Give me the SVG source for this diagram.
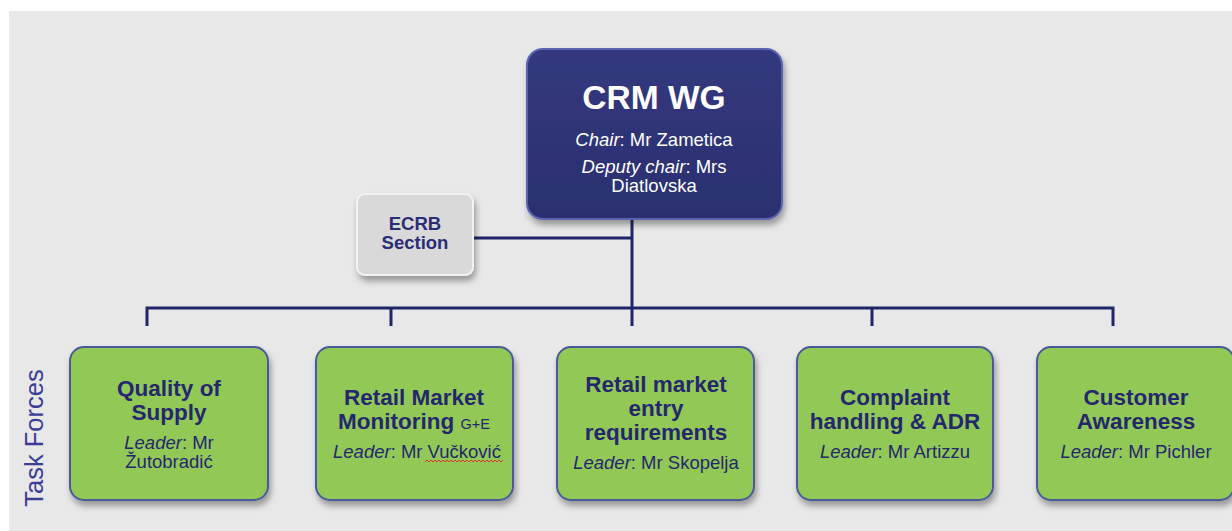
<svg xmlns="http://www.w3.org/2000/svg" width="1232" height="531" viewBox="0 0 1232 531">
<defs>
<filter id="sh" x="-10%" y="-10%" width="125%" height="130%">
<feDropShadow dx="2" dy="5" stdDeviation="3" flood-color="#000" flood-opacity="0.35"/>
</filter>
<linearGradient id="gNavy" x1="0" y1="0" x2="0" y2="1">
<stop offset="0" stop-color="#34397e"/>
<stop offset="1" stop-color="#2a2f70"/>
</linearGradient>
</defs>
<style>
.bg{fill:#e8e8e8}
.green{fill:#92c957;stroke:#4b5a98;stroke-width:2;filter:url(#sh)}
.navy{fill:url(#gNavy);stroke:#5a64b0;stroke-width:2;filter:url(#sh)}
.grey{fill:#d9d9d9;stroke:#f2f2f2;stroke-width:2;filter:url(#sh)}
.conn{fill:none;stroke:#20256a;stroke-width:3}
text{font-family:"Liberation Sans",Arial,sans-serif;text-anchor:middle}
.t{font-weight:bold;font-size:22.5px;fill:#25276e}
.l{font-size:18.5px;fill:#25276e}
.w{fill:#fff}
</style>
<rect x="0" y="0" width="1232" height="531" fill="#fff"/>
<rect class="bg" x="9" y="11" width="1223" height="520"/>

<g id="connectors">
<path class="conn" d="M632,196 V326"/>
<path class="conn" d="M473,238 H632"/>
<path class="conn" d="M147,326 V308 H1113 V326"/>
<path class="conn" d="M391,308 V326"/>
<path class="conn" d="M872,308 V326"/>
</g>

<g id="crm-wg">
<rect class="navy" x="527" y="49" width="255" height="170" rx="16"/>
<text class="w" x="654" y="109" font-size="33.5" font-weight="bold">CRM WG</text>
<text class="w" x="654" y="146" font-size="18.5"><tspan font-style="italic">Chair</tspan>: Mr Zametica</text>
<text class="w" x="654" y="173" font-size="18.5"><tspan font-style="italic">Deputy chair</tspan>: Mrs</text>
<text class="w" x="654" y="192" font-size="18.5">Diatlovska</text>
</g>

<g id="ecrb">
<rect class="grey" x="357" y="194" width="116" height="81" rx="8"/>
<text x="415" y="230" font-size="18.5" font-weight="bold" fill="#2a2c78">ECRB</text>
<text x="415" y="249" font-size="18.5" font-weight="bold" fill="#2a2c78">Section</text>
</g>

<g id="tf1">
<rect class="green" x="70" y="347" width="198" height="153" rx="14"/>
<text class="t" x="169" y="396">Quality of</text>
<text class="t" x="169" y="420">Supply</text>
<text class="l" x="169" y="449"><tspan font-style="italic">Leader</tspan>: Mr</text>
<text class="l" x="169" y="468">Žutobradić</text>
</g>

<g id="tf2">
<rect class="green" x="316" y="347" width="197" height="153" rx="14"/>
<text class="t" x="414" y="405">Retail Market</text>
<text class="t" x="414" y="429">Monitoring <tspan font-size="14.5" font-weight="normal">G+E</tspan></text>
<text class="l" x="417" y="458"><tspan font-style="italic">Leader</tspan>: Mr Vučković</text>
<path d="M425,462 l2,-2 l2,2 l2,-2 l2,2 l2,-2 l2,2 l2,-2 l2,2 l2,-2 l2,2 l2,-2 l2,2 l2,-2 l2,2 l2,-2 l2,2 l2,-2 l2,2 l2,-2 l2,2 l2,-2 l2,2 l2,-2 l2,2 l2,-2 l2,2 l2,-2 l2,2 l2,-2 l2,2 l2,-2 l2,2 l2,-2 l2,2 l2,-2 l2,2 l2,-2 l2,2 l2,-2" fill="none" stroke="#e03030" stroke-width="1"/>
</g>

<g id="tf3">
<rect class="green" x="557" y="347" width="197" height="153" rx="14"/>
<text class="t" x="656" y="392">Retail market</text>
<text class="t" x="656" y="416">entry</text>
<text class="t" x="656" y="440">requirements</text>
<text class="l" x="656" y="469"><tspan font-style="italic">Leader</tspan>: Mr Skopelja</text>
</g>

<g id="tf4">
<rect class="green" x="797" y="347" width="196" height="153" rx="14"/>
<text class="t" x="895" y="405">Complaint</text>
<text class="t" x="895" y="429">handling &amp; ADR</text>
<text class="l" x="895" y="458"><tspan font-style="italic">Leader</tspan>: Mr Artizzu</text>
</g>

<g id="tf5">
<rect class="green" x="1037" y="347" width="197" height="153" rx="14"/>
<text class="t" x="1136" y="405">Customer</text>
<text class="t" x="1136" y="429">Awareness</text>
<text class="l" x="1136" y="458"><tspan font-style="italic">Leader</tspan>: Mr Pichler</text>
</g>

<text x="0" y="0" transform="translate(43,438) rotate(-90)" font-size="25.5" fill="#3a3d96">Task Forces</text>
</svg>
